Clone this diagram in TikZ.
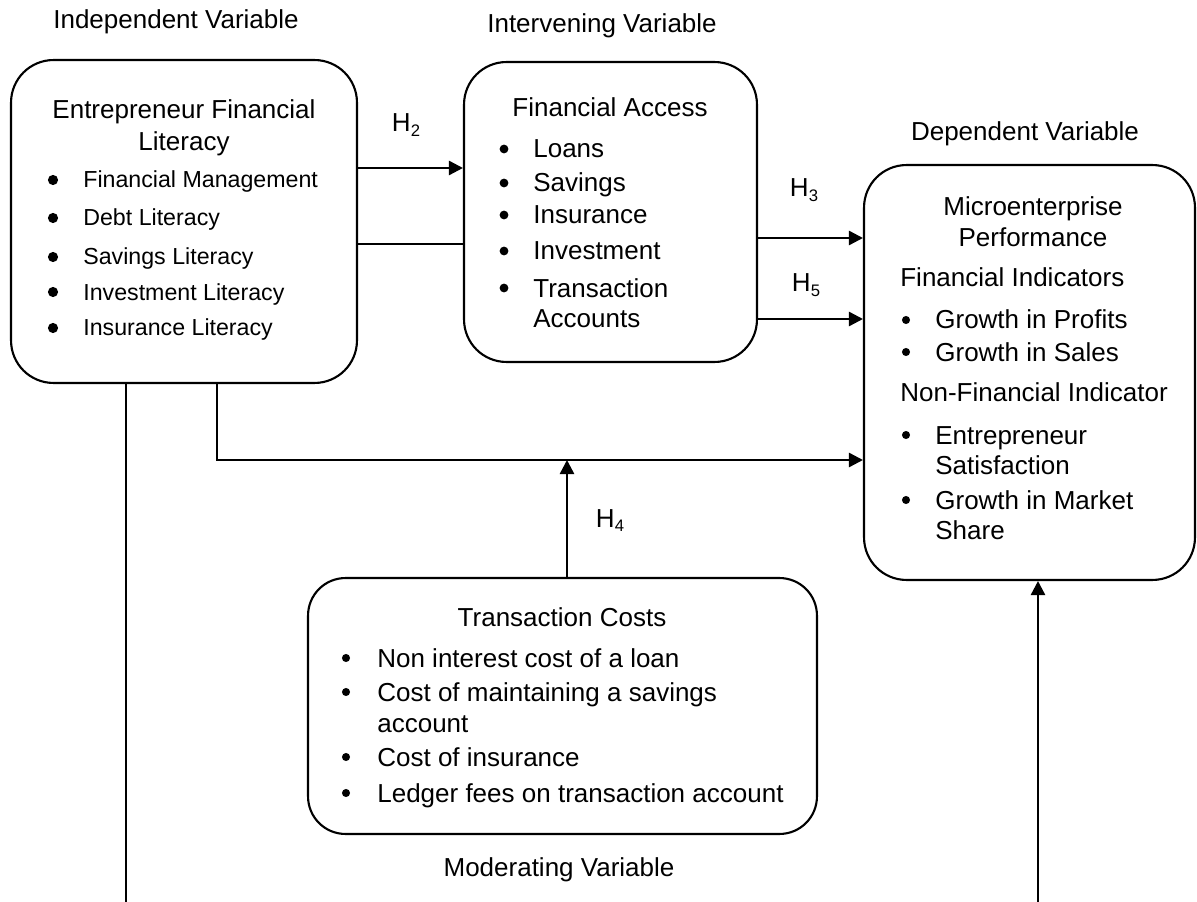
\documentclass[tikz,border=0pt]{standalone}
\usepackage{fontspec}
\setmainfont{Liberation Sans}
\usetikzlibrary{arrows.meta}

\tikzset{
  box/.style={draw, line width=1.2pt, rounded corners=0.85cm, inner sep=0pt},
  txt/.style={font=\fontsize{14.8}{18}\selectfont, inner sep=0pt, anchor=base},
  lst/.style={txt, anchor=base west},
  small/.style={font=\fontsize{13.2}{16}\selectfont, inner sep=0pt, anchor=base west},
  link/.style={line width=1.4pt},
  arr/.style={link, -{Triangle[length=8pt,width=8pt]}},
}
\newcommand{\hyp}[1]{H\raisebox{-0.35ex}{\fontsize{9.5}{10}\selectfont #1}}

\begin{document}
\begin{tikzpicture}[x=0.02cm, y=-0.02cm]
  \useasboundingbox (0,0) rectangle (1197,902);

  % Boxes
  \node[box, minimum width=6.92cm, minimum height=6.46cm] (iv) at (184,221.5) {};
  \node[box, minimum width=5.86cm, minimum height=6.0cm] (fa) at (610.5,212) {};
  \node[box, minimum width=6.62cm, minimum height=8.3cm] (dv) at (1029.5,372.5) {};
  \node[box, minimum width=10.18cm, minimum height=5.12cm, rounded corners=0.75cm] (tc) at (562.5,706) {};

  % Variable labels
  \node[txt] (lab-iv) at (176,29) {Independent Variable};
  \node[txt] (lab-fa) at (602,33) {Intervening Variable};
  \node[txt] (lab-dv) at (1025,141) {Dependent Variable};
  \node[txt] (lab-tc) at (559,876) {Moderating Variable};

  % Independent variable
  \node[txt] (iv-t1) at (184,119) {Entrepreneur Financial};
  \node[txt] (iv-t2) at (184,151) {Literacy};
  \foreach \t/\y [count=\i] in {Financial Management/188, Debt Literacy/226,
      Savings Literacy/265, Investment Literacy/300, Insurance Literacy/336} {
    \node[small] (iv-\i) at (83,\y) {\t};
    \fill (53,\y-8) circle (2.9pt);
  }

  % Intervening variable
  \node[txt] (fa-t) at (610,117) {Financial Access};
  \foreach \t/\y [count=\i] in {Loans/158, Savings/192, Insurance/224,
      Investment/260, Transaction/297} {
    \node[lst] (fa-\i) at (533,\y) {\t};
    \fill (504,\y-9) circle (2.5pt);
  }
  \node[lst] (fa-6) at (533,327) {Accounts};

  % Dependent variable
  \node[txt] (dv-t1) at (1033,216) {Microenterprise};
  \node[txt] (dv-t2) at (1033,247) {Performance};
  \node[lst] (dv-f) at (900,287) {Financial Indicators};
  \node[lst] (dv-n) at (900,401) {Non-Financial Indicator};
  \foreach \t/\y [count=\i] in {Growth in Profits/329, Growth in Sales/361,
      Entrepreneur/444, Growth in Market/509} {
    \node[lst] (dv-\i) at (935,\y) {\t};
    \fill (906,\y-9) circle (2.3pt);
  }
  \node[lst] (dv-5) at (935,474) {Satisfaction};
  \node[lst] (dv-6) at (935,539) {Share};

  % Moderating variable
  \node[txt] (tc-t) at (562,626) {Transaction Costs};
  \foreach \t/\y [count=\i] in {Non interest cost of a loan/667,
      Cost of maintaining a savings/701, Cost of insurance/766,
      Ledger fees on transaction account/802} {
    \node[lst] (tc-\i) at (377,\y) {\t};
    \fill (346,\y-9) circle (2.3pt);
  }
  \node[lst] (tc-5) at (377,732) {account};

  % Hypotheses
  \node[txt] (h2) at (406,132) {\hyp{2}};
  \node[txt] (h3) at (804,197) {\hyp{3}};
  \node[txt] (h5) at (806,292) {\hyp{5}};
  \node[txt] (h4) at (610,527) {\hyp{4}};

  % Connectors
  \coordinate (ya) at (0,168);
  \coordinate (yb) at (0,244);
  \coordinate (yc) at (0,238);
  \coordinate (yd) at (0,319);
  \coordinate (ye) at (0,460);
  \coordinate (xa) at (217,0);
  \coordinate (mod) at (567,460);
  \coordinate (b1) at (126,902);
  \coordinate (b2) at (1038,902);

  \draw[arr] (iv.east |- ya) -- (fa.west |- ya);
  \draw[link] (iv.east |- yb) -- (fa.west |- yb);
  \draw[arr] (fa.east |- yc) -- (dv.west |- yc);
  \draw[arr] (fa.east |- yd) -- (dv.west |- yd);
  \draw[arr] (iv.south -| xa) |- (dv.west |- ye);
  \draw[arr] (tc.north -| mod) -- (mod);
  \draw[link] (iv.south -| b1) -- (b1);
  \draw[arr] (b2) -- (dv.south -| b2);
\end{tikzpicture}
\end{document}
